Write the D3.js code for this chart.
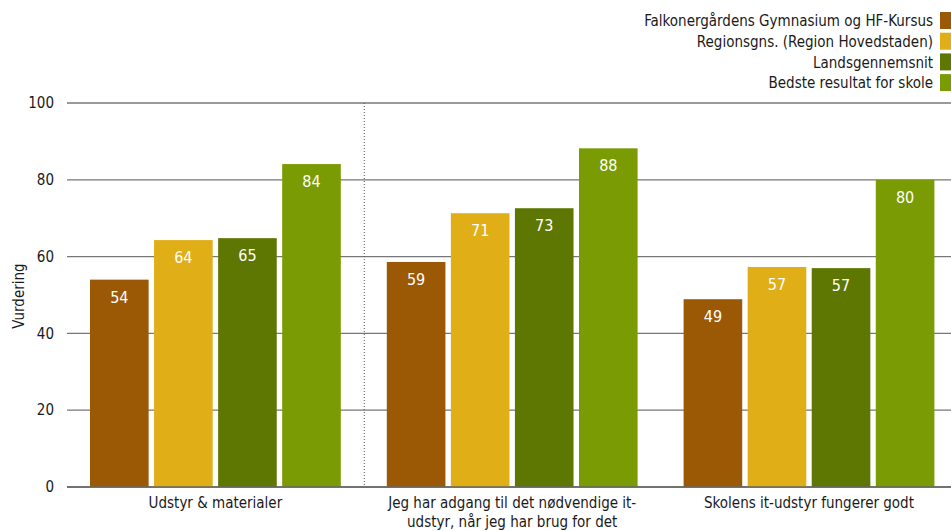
<!DOCTYPE html>
<html><head><meta charset="utf-8">
<script src="https://cdn.jsdelivr.net/npm/d3@7/dist/d3.min.js"></script>
<style>body{margin:0;background:#fff}svg{display:block}text{font-family:"DejaVu Sans Condensed","DejaVu Sans",sans-serif}</style>
</head><body><svg id="c" width="951" height="531"></svg>
<script>
const categories = [["Udstyr & materialer"], ["Jeg har adgang til det nødvendige it-", "udstyr, når jeg har brug for det"], ["Skolens it-udstyr fungerer godt"]];
const seriesNames = ["Falkonergårdens Gymnasium og HF-Kursus", "Regionsgns. (Region Hovedstaden)", "Landsgennemsnit", "Bedste resultat for skole"];
const seriesColors = ["#9b5905", "#e0ae17", "#5e7602", "#7a9b03"];
const values = [
  [54, 64.3, 64.8, 84.1],
  [58.6, 71.3, 72.6, 88.2],
  [48.9, 57.3, 57.0, 80.0]
];
const yTicks = [0, 20, 40, 60, 80, 100];
const separators = [1];

const svg = d3.select("#c");
const mLeft = 67, mRight = 957.4, mTop = 103, mBottom = 487;
const x0 = d3.scaleBand().domain(d3.range(categories.length)).range([mLeft, mRight]).paddingInner(0).paddingOuter(0);
const x1 = d3.scaleBand().domain(d3.range(seriesNames.length)).range([23, x0.bandwidth() - 23]).paddingInner(0.085);
const y = d3.scaleLinear().domain([0, 100]).range([mBottom, mTop]);

// grid
svg.append("g").selectAll("line").data(yTicks).join("line")
  .attr("x1", mLeft).attr("x2", 951).attr("y1", d => y(d)).attr("y2", d => y(d))
  .attr("stroke", "#777").attr("stroke-width", 1.3);
svg.append("g").selectAll("text").data(yTicks).join("text")
  .attr("x", 54).attr("y", d => y(d)).attr("dy", "0.35em").attr("text-anchor", "end")
  .attr("font-size", 15).attr("fill", "#1a1a1a").text(d => d);

// separators
svg.append("g").selectAll("line").data(separators).join("line")
  .attr("x1", d => x0(d) + 0.5).attr("x2", d => x0(d) + 0.5).attr("y1", mTop).attr("y2", mBottom)
  .attr("stroke", "#555").attr("stroke-width", 1).attr("stroke-dasharray", "1,2");

// bars
const g = svg.append("g").selectAll("g").data(values).join("g")
  .attr("transform", (d, i) => `translate(${x0(i)},0)`);
g.selectAll("rect").data(d => d).join("rect")
  .attr("x", (d, j) => x1(j)).attr("width", x1.bandwidth())
  .attr("y", d => y(d)).attr("height", d => mBottom - y(d))
  .attr("fill", (d, j) => seriesColors[j]);
g.selectAll("text").data(d => d).join("text")
  .attr("x", (d, j) => x1(j) + x1.bandwidth() / 2).attr("y", d => y(d) + 23)
  .attr("text-anchor", "middle").attr("font-size", 16).attr("fill", "#fff")
  .text(d => Math.round(d));

// baseline
svg.append("line").attr("x1", mLeft).attr("x2", 951).attr("y1", mBottom).attr("y2", mBottom)
  .attr("stroke", "#666").attr("stroke-width", 1.4);

// x labels
svg.append("g").selectAll("text").data(categories).join("text")
  .attr("text-anchor", "middle").attr("font-size", 15).attr("fill", "#1a1a1a")
  .attr("transform", (d, i) => `translate(${x0(i) + x0.bandwidth() / 2},508)`)
  .selectAll("tspan").data(d => d).join("tspan")
  .attr("x", 0).attr("y", (d, k) => k * 19).text(d => d);

// y title
svg.append("text").attr("transform", "translate(24,296) rotate(-90)")
  .attr("text-anchor", "middle").attr("font-size", 15).attr("fill", "#1a1a1a").text("Vurdering");

// legend
const lg = svg.append("g").selectAll("g").data(seriesNames).join("g")
  .attr("transform", (d, i) => `translate(0,${21 + i * 20.7})`);
lg.append("rect").attr("x", 940).attr("y", -9).attr("width", 12).attr("height", 17)
  .attr("fill", (d, i) => seriesColors[i]);
lg.append("text").attr("x", 933).attr("y", 0).attr("dy", "0.35em").attr("text-anchor", "end")
  .attr("font-size", 15).attr("fill", "#1a1a1a").text(d => d);
</script></body></html>
